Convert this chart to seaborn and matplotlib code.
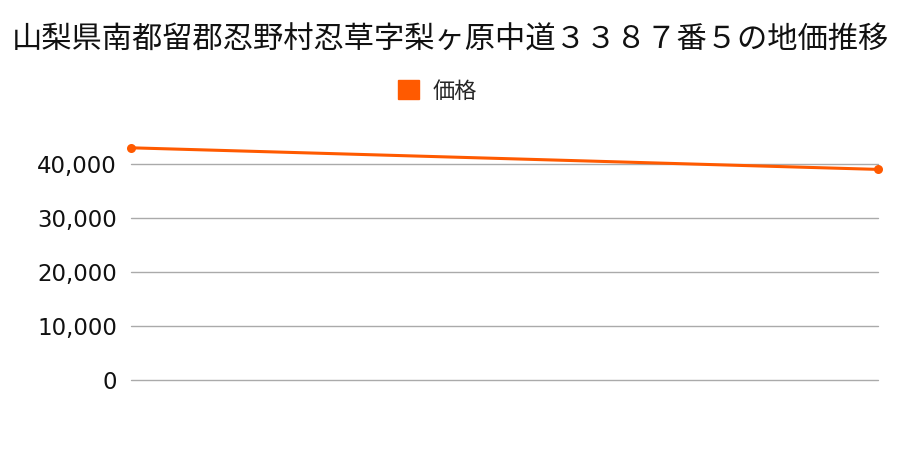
import pandas as pd
import seaborn as sns
import matplotlib.pyplot as plt
from matplotlib.patches import Patch
from matplotlib.ticker import FuncFormatter

# データ
titulo = '山梨県南都留郡忍野村忍草字梨ヶ原中道３３８７番５の地価推移'
serie = '価格'
puntos = [0, 1]
precios = [43000, 39000]
marcas_y = [0, 10000, 20000, 30000, 40000]

df = pd.DataFrame({'x': puntos, serie: precios})

sns.set_theme(style="white")
plt.rcParams['font.family'] = ['Noto Sans CJK JP', 'DejaVu Sans']

color = '#ff5a00'

fig = plt.figure(figsize=(9, 4.5), dpi=100)
ax = fig.add_axes([131 / 900, 1 - 380 / 450, (878 - 131) / 900, (380 - 137) / 450])

sns.lineplot(data=df, x='x', y=serie, ax=ax, color=color, linewidth=2.2,
             marker='o', markersize=6.5, markeredgewidth=0, clip_on=False, zorder=3)

ax.set_xlim(0, 1)
ax.set_ylim(0, 45000)
ax.set_yticks(marcas_y)
ax.yaxis.set_major_formatter(FuncFormatter(lambda v, p: f'{int(v):,}'))
ax.set_xticks([])
ax.set_xlabel('')
ax.set_ylabel('')
ax.grid(axis='y', color='#aaaaaa', linewidth=1)
for g in ax.get_ygridlines():
    g.set_clip_on(False)
for s in ax.spines.values():
    s.set_visible(False)
ax.tick_params(axis='y', labelsize=16.5, length=0, pad=10, colors='#111111')
for t in ax.get_yticklabels():
    t.set_family('DejaVu Sans')

fig.text(0.5, 1 - 40 / 450, titulo, ha='center', va='center', fontsize=21.8, color='#111111')
fig.legend(handles=[Patch(color=color, label=serie)], loc='center',
           bbox_to_anchor=(0.486, 1 - 91 / 450), frameon=False, fontsize=16,
           handlelength=0.95, handleheight=0.95, handletextpad=0.6)

fig.savefig('out.png', dpi=100)
